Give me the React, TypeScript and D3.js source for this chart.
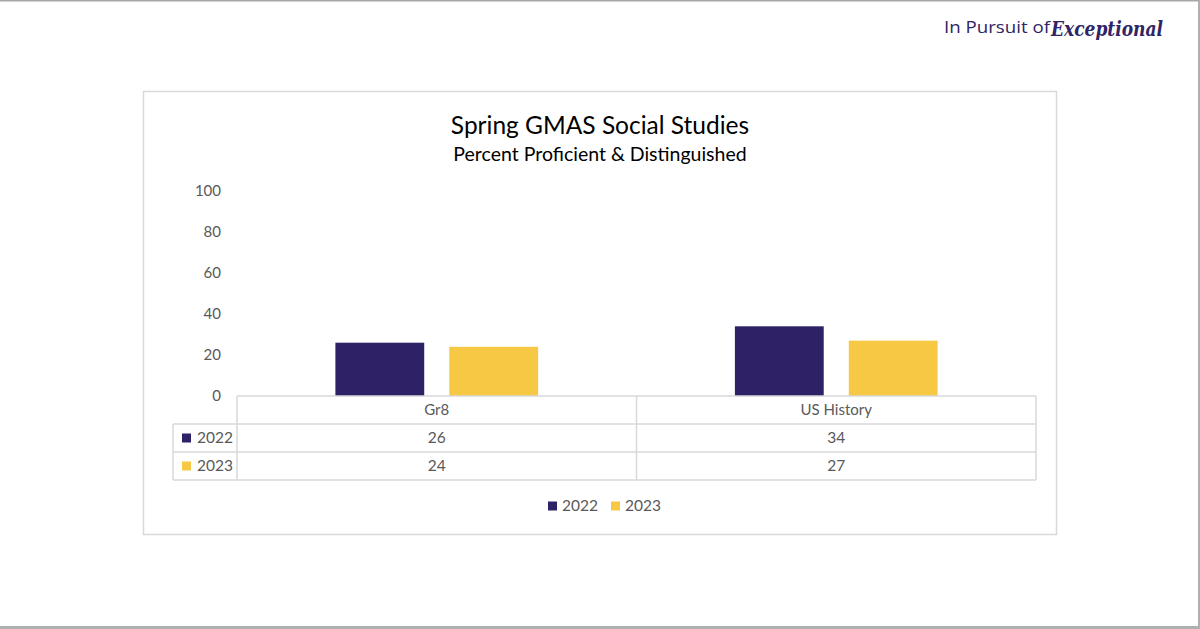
import React from "react";
import * as d3 from "d3";

const categories = ["Gr8", "US History"];
const seriesNames = ["2022", "2023"];
const values2022 = [26, 34];
const values2023 = [24, 27];
const yTicks = [0, 20, 40, 60, 80, 100];

const colors: Record<string, string> = { "2022": "#2e2166", "2023": "#f7c843" };
const font = "Lato, 'Open Sans', sans-serif";
const textGray = "#595959";
const lineGray = "#d9d9d9";

const App = () => {
  const W = 1200;
  const H = 629;
  const plot = { left: 237, right: 1036, top: 191, bottom: 396 };
  const rowH = 28;

  const series = [
    { name: seriesNames[0], values: values2022 },
    { name: seriesNames[1], values: values2023 },
  ];

  const x = d3.scaleBand<string>().domain(categories).range([plot.left, plot.right]);
  const inner = d3
    .scaleBand<string>()
    .domain(seriesNames)
    .range([0, x.bandwidth()])
    .paddingInner(0.22)
    .paddingOuter(0.864);
  const y = d3.scaleLinear().domain([0, 100]).range([plot.bottom, plot.top]);

  const tableTop = plot.bottom;
  const tableLeft = 173;

  return (
    <div style={{ position: "absolute", left: 0, top: 0 }}>
      <svg width={W} height={H} style={{ display: "block", background: "#fff" }}>
        {/* slide edges */}
        <rect x={0} y={0} width={W} height={1.5} fill="#a6a6a6" />
        <rect x={1198} y={0} width={2} height={H} fill="#b0b0b0" />
        <rect x={0} y={626} width={W} height={3} fill="#b0b0b0" />

        {/* logo */}
        <text x={944} y={33} fontFamily="'Open Sans', sans-serif" fontSize={17} fill="#2e2466"
          textLength={106} lengthAdjust="spacingAndGlyphs">
          In Pursuit of
        </text>
        <text
          x={1051}
          y={36}
          fontFamily="'DejaVu Serif', serif"
          fontStyle="italic"
          fontWeight="bold"
          fontSize={21}
          fill="#2e2466"
          textLength={112}
          lengthAdjust="spacingAndGlyphs"
        >
          Exceptional
        </text>

        {/* chart frame */}
        <rect x={143.5} y={91.5} width={913} height={443} fill="#fff" stroke={lineGray} strokeWidth={1.5} />

        {/* titles */}
        <text x={600} y={134} textAnchor="middle" fontFamily={font} fontSize={24.5} fill="#000">
          Spring GMAS Social Studies
        </text>
        <text x={600} y={161} textAnchor="middle" fontFamily={font} fontSize={19.5} fill="#000">
          Percent Proficient &amp; Distinguished
        </text>

        {/* y ticks */}
        {yTicks.map((t) => (
          <text
            key={t}
            x={221}
            y={y(t)}
            dy="0.35em"
            textAnchor="end"
            fontFamily={font}
            fontSize={15}
            fill={textGray}
          >
            {t}
          </text>
        ))}

        {/* bars */}
        {series.map((s) =>
          categories.map((c, i) => (
            <rect
              key={s.name + c}
              x={(x(c) ?? 0) + (inner(s.name) ?? 0)}
              y={y(s.values[i])}
              width={inner.bandwidth()}
              height={y(0) - y(s.values[i])}
              fill={colors[s.name]}
            />
          ))
        )}

        {/* data table */}
        <g fill="none" stroke={lineGray} strokeWidth={1.5}>
          <line x1={plot.left} x2={plot.right} y1={tableTop} y2={tableTop} />
          {[1, 2, 3].map((r) => (
            <line key={r} x1={tableLeft} x2={plot.right} y1={tableTop + r * rowH} y2={tableTop + r * rowH} />
          ))}
          <line x1={tableLeft} x2={tableLeft} y1={tableTop + rowH} y2={tableTop + 3 * rowH} />
          {[plot.left, ...categories.map((c) => (x(c) ?? 0) + x.bandwidth())].map((lx, k) => (
            <line key={k} x1={lx} x2={lx} y1={tableTop} y2={tableTop + 3 * rowH} />
          ))}
        </g>
        {categories.map((c) => (
          <text
            key={c}
            x={(x(c) ?? 0) + x.bandwidth() / 2}
            y={tableTop + rowH / 2}
            dy="0.35em"
            textAnchor="middle"
            fontFamily={font}
            fontSize={15}
            fill={textGray}
          >
            {c}
          </text>
        ))}
        {series.map((s, r) => (
          <g key={s.name}>
            <rect x={182} y={tableTop + (r + 1.5) * rowH - 4.5} width={9} height={9} fill={colors[s.name]} />
            <text
              x={197}
              y={tableTop + (r + 1.5) * rowH}
              dy="0.35em"
              fontFamily={font}
              fontSize={15.5}
              fill={textGray}
            >
              {s.name}
            </text>
            {categories.map((c, i) => (
              <text
                key={c}
                x={(x(c) ?? 0) + x.bandwidth() / 2}
                y={tableTop + (r + 1.5) * rowH}
                dy="0.35em"
                textAnchor="middle"
                fontFamily={font}
                fontSize={15.5}
                fill={textGray}
              >
                {s.values[i]}
              </text>
            ))}
          </g>
        ))}

        {/* legend */}
        {series.map((s, k) => (
          <g key={s.name} transform={`translate(${548 + k * 63},506)`}>
            <rect x={0} y={-4.5} width={9} height={9} fill={colors[s.name]} />
            <text x={14} y={0} dy="0.35em" fontFamily={font} fontSize={15.5} fill={textGray}>
              {s.name}
            </text>
          </g>
        ))}
      </svg>
    </div>
  );
};

export default App;
